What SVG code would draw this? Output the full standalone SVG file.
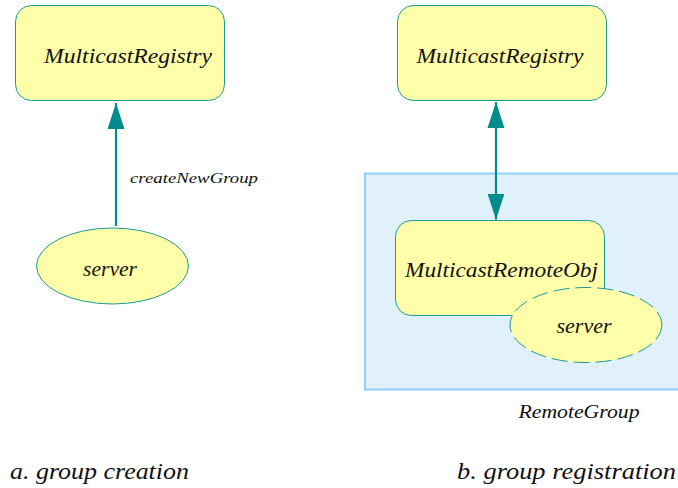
<svg xmlns="http://www.w3.org/2000/svg" width="678" height="488" viewBox="0 0 678 488" font-family="'Liberation Serif', 'DejaVu Serif', serif">
  <style>
    .t { font-style: italic; fill: #111; }
    .box { fill: #FFFFAA; stroke: #1A9A9A; stroke-width: 1; }
    .ell { fill: #FFFFAA; stroke: #1A9A9A; stroke-width: 1; }
    .dash { stroke-dasharray: 16 6; }
    .conn { stroke: #008C8C; stroke-width: 2.2; fill: none; }
    .grp { fill: #E0F1FC; stroke: #8FD0F8; stroke-width: 2; }
  </style>
  <defs>
    <marker id="arr" markerUnits="userSpaceOnUse" markerWidth="26" markerHeight="18" refX="26" refY="9" orient="auto-start-reverse" viewBox="0 0 26 18">
      <path d="M0,0.5 L26,9 L0,17.5 z" fill="#008C8C"/>
    </marker>
  </defs>

  <g id="RemoteGroup">
    <rect class="grp" x="365" y="173.5" width="320" height="216"/>
    <text class="t" x="579" y="418" text-anchor="middle" font-size="19" textLength="121" lengthAdjust="spacingAndGlyphs">RemoteGroup</text>
  </g>

  <g id="connectors">
    <line class="conn" x1="116" y1="226" x2="116" y2="103" marker-end="url(#arr)"/>
    <line class="conn" x1="496" y1="102" x2="496" y2="219.5" marker-start="url(#arr)" marker-end="url(#arr)"/>
    <text class="t" x="130" y="183" font-size="15" textLength="128" lengthAdjust="spacingAndGlyphs">createNewGroup</text>
  </g>

  <g id="MulticastRegistryA">
    <rect class="box" x="15.5" y="5.5" width="209" height="95" rx="16"/>
    <text class="t" x="128" y="63" text-anchor="middle" font-size="22" textLength="168" lengthAdjust="spacingAndGlyphs">MulticastRegistry</text>
  </g>

  <g id="serverA">
    <ellipse class="ell" cx="112.5" cy="266" rx="76" ry="38"/>
    <text class="t" x="110" y="276" text-anchor="middle" font-size="21" textLength="54" lengthAdjust="spacingAndGlyphs">server</text>
  </g>

  <g id="MulticastRegistryB">
    <rect class="box" x="397.5" y="5.5" width="209" height="95" rx="16"/>
    <text class="t" x="500" y="63" text-anchor="middle" font-size="22" textLength="167" lengthAdjust="spacingAndGlyphs">MulticastRegistry</text>
  </g>

  <g id="MulticastRemoteObj">
    <rect class="box" x="395.5" y="220.5" width="209" height="95" rx="16"/>
    <text class="t" x="501.5" y="277" text-anchor="middle" font-size="22" textLength="193" lengthAdjust="spacingAndGlyphs">MulticastRemoteObj</text>
  </g>

  <g id="serverB">
    <ellipse class="ell dash" cx="586" cy="325" rx="76" ry="37.5"/>
    <text class="t" x="584" y="333" text-anchor="middle" font-size="21" textLength="55" lengthAdjust="spacingAndGlyphs">server</text>
  </g>

  <g id="captions">
    <text class="t" x="10" y="479" font-size="24" textLength="179" lengthAdjust="spacingAndGlyphs">a. group creation</text>
    <text class="t" x="457" y="479" font-size="24" textLength="219" lengthAdjust="spacingAndGlyphs">b. group registration</text>
  </g>
</svg>
